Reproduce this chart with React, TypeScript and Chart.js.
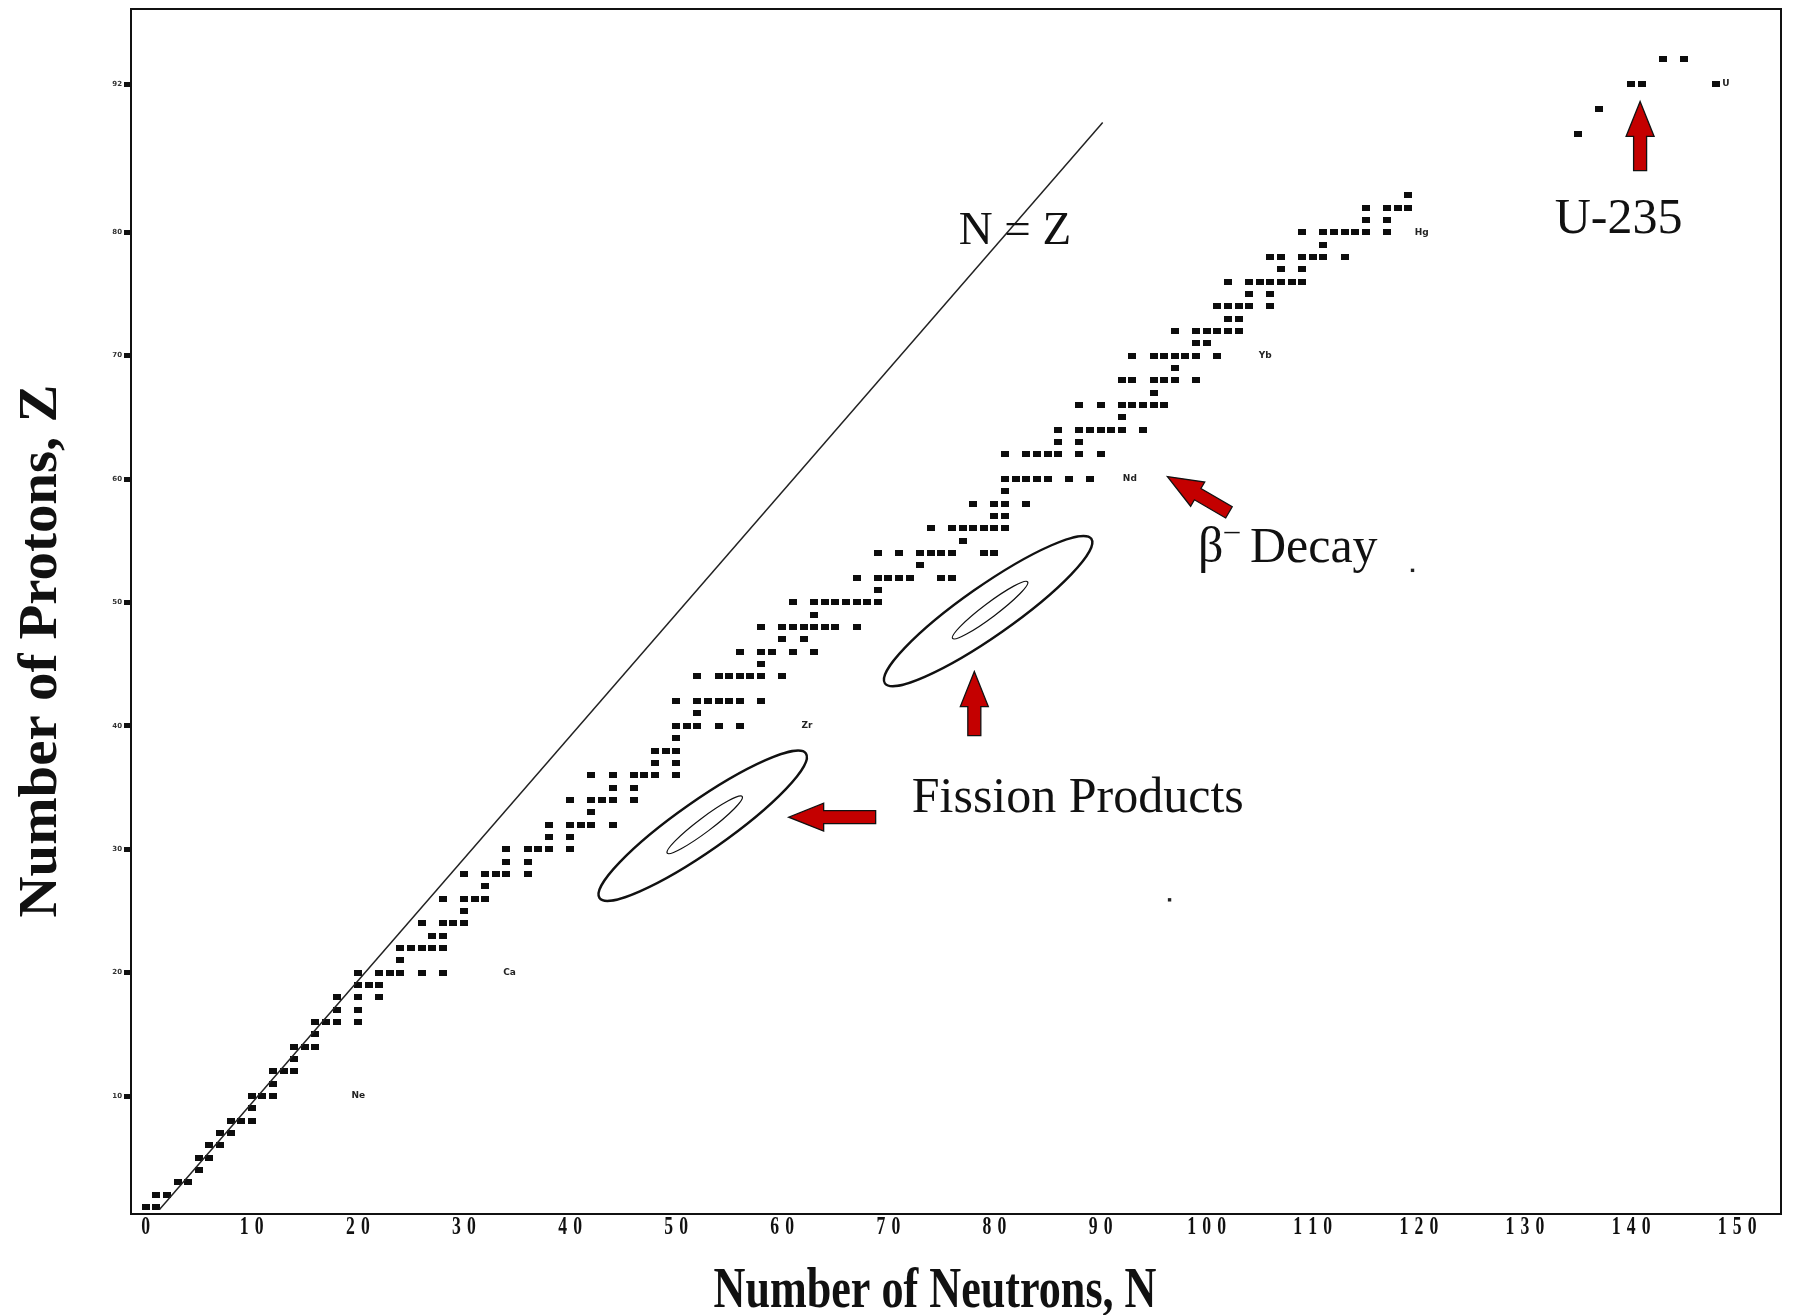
import { useEffect, useRef } from "react";
import { Chart, registerables } from "chart.js";

Chart.register(...registerables);

// Proton number Z of each row of stable nuclides
const protonNumbers = [
  1, 2, 3, 4, 5, 6, 7, 8, 9, 10, 11, 12, 13, 14, 15, 16, 17, 18, 19, 20,
  21, 22, 23, 24, 25, 26, 27, 28, 29, 30, 31, 32, 33, 34, 35, 36, 37, 38, 39, 40,
  41, 42, 44, 45, 46, 47, 48, 49, 50, 51, 52, 53, 54, 55, 56, 57, 58, 59, 60,
  62, 63, 64, 65, 66, 67, 68, 69, 70, 71, 72, 73, 74, 75, 76, 77, 78, 79, 80,
  81, 82, 83, 88, 90, 92, 94,
];

// Neutron numbers N found in each of those rows
const neutronRows = [
  [0, 1], [1, 2], [3, 4], [5], [5, 6], [6, 7], [7, 8], [8, 9, 10], [10], [10, 11, 12],
  [12], [12, 13, 14], [14], [14, 15, 16], [16], [16, 17, 18, 20], [18, 20], [18, 20, 22],
  [20, 21, 22], [20, 22, 23, 24, 26, 28],
  [24], [24, 25, 26, 27, 28], [27, 28], [26, 28, 29, 30], [30], [28, 30, 31, 32], [32],
  [30, 32, 33, 34, 36], [34, 36], [34, 36, 37, 38, 40],
  [38, 40], [38, 40, 41, 42, 44], [42], [40, 42, 43, 44, 46], [44, 46],
  [42, 44, 46, 47, 48, 50], [48, 50], [48, 49, 50], [50], [50, 51, 52, 54, 56],
  [52], [50, 52, 53, 54, 55, 56, 58], [52, 54, 55, 56, 57, 58, 60], [58],
  [56, 58, 59, 61, 63], [60, 62], [58, 60, 61, 62, 63, 64, 65, 67], [63],
  [61, 63, 64, 65, 66, 67, 68, 69], [69], [67, 69, 70, 71, 72, 75, 76], [73],
  [69, 71, 73, 74, 75, 76, 79, 80], [77], [74, 76, 77, 78, 79, 80, 81], [80, 81],
  [78, 80, 81, 83], [81], [81, 82, 83, 84, 85, 87, 89],
  [81, 83, 84, 85, 86, 88, 90], [86, 88], [86, 88, 89, 90, 91, 92, 94], [92],
  [88, 90, 92, 93, 94, 95, 96], [95], [92, 93, 95, 96, 97, 99], [97],
  [93, 95, 96, 97, 98, 99, 101], [99, 100], [97, 99, 100, 101, 102, 103], [102, 103],
  [101, 102, 103, 104, 106], [104, 106], [102, 104, 105, 106, 107, 108, 109], [107, 109],
  [106, 107, 109, 110, 111, 113], [111], [109, 111, 112, 113, 114, 115, 117],
  [115, 117], [115, 117, 118, 119], [119], [135], [137], [140, 141, 148], [143, 145],
];

// Ends of the N = Z guide line
const guideLineN = [1.3, 90.2];
const guideLineZ = [0.8, 88.9];

// Axis ticks
const xTickValues = [0, 10, 20, 30, 40, 50, 60, 70, 80, 90, 100, 110, 120, 130, 140, 150];
const yTickValues = [10, 20, 30, 40, 50, 60, 70, 80, 92];

// Small element tags printed beside some rows
const elementTags = ["Ne", "Ca", "Zr", "Nd", "Yb", "Hg", "U"];
const elementTagN = [19.4, 33.7, 61.8, 92.1, 104.9, 119.6, 148.6];
const elementTagZ = [10, 20, 40, 60, 70, 80, 92];

// Stray specks
const speckN = [96.5, 119.4];
const speckZ = [25.9, 52.6];

// Fission-product ellipses (centres in N, Z)
const ellipseN = [52.5, 79.4];
const ellipseZ = [31.9, 49.3];

// Red arrows: tip and tail in N, Z
const arrowTipN = [140.85, 96.3, 78.1, 60.6];
const arrowTipZ = [90.6, 60.2, 44.4, 32.6];
const arrowTailN = [140.85, 102.1, 78.1, 68.8];
const arrowTailZ = [85.0, 57.3, 39.2, 32.6];

const X_MIN = -1.385;
const X_MAX = 154.13;
const Y_MIN = 0.44;
const Y_MAX = 98.09;

const SERIF = '"Liberation Serif", "Times New Roman", serif';

function drawBlockArrow(ctx: CanvasRenderingContext2D, tx: number, ty: number, sx: number, sy: number) {
  const len = Math.hypot(tx - sx, ty - sy);
  const ang = Math.atan2(ty - sy, tx - sx);
  const headLen = 35;
  const headHalf = 14;
  const shaftHalf = 6.5;
  ctx.save();
  ctx.translate(sx, sy);
  ctx.rotate(ang);
  ctx.beginPath();
  ctx.moveTo(0, -shaftHalf);
  ctx.lineTo(len - headLen, -shaftHalf);
  ctx.lineTo(len - headLen, -headHalf);
  ctx.lineTo(len, 0);
  ctx.lineTo(len - headLen, headHalf);
  ctx.lineTo(len - headLen, shaftHalf);
  ctx.lineTo(0, shaftHalf);
  ctx.closePath();
  ctx.fillStyle = "#c40000";
  ctx.fill();
  ctx.lineWidth = 1.3;
  ctx.strokeStyle = "#111";
  ctx.stroke();
  ctx.restore();
}

const overlayPlugin = {
  id: "chartOverlay",
  afterDraw(chart: any) {
    const { ctx, chartArea: ca } = chart;
    const xs = chart.scales.x;
    const ys = chart.scales.y;
    const px = (n: number) => xs.getPixelForValue(n);
    const py = (z: number) => ys.getPixelForValue(z);
    ctx.save();

    // plot frame
    ctx.strokeStyle = "#111";
    ctx.lineWidth = 2;
    ctx.strokeRect(ca.left, ca.top, ca.right - ca.left, ca.bottom - ca.top);

    // x tick labels: narrow bold digits, spaced apart
    ctx.fillStyle = "#111";
    ctx.font = `bold 26px ${SERIF}`;
    ctx.textAlign = "center";
    ctx.textBaseline = "alphabetic";
    for (const v of xTickValues) {
      const digits = String(v).split("");
      const cx = px(v);
      digits.forEach((d, i) => {
        const dx = cx + (i - (digits.length - 1) / 2) * 15;
        ctx.save();
        ctx.translate(dx, ca.bottom + 20);
        ctx.scale(0.68, 1);
        ctx.fillText(d, 0, 0);
        ctx.restore();
      });
    }

    // axis titles
    ctx.font = `bold 56px ${SERIF}`;
    const xt = "Number of Neutrons, N";
    const xw = ctx.measureText(xt).width;
    ctx.save();
    ctx.translate(935, 1307);
    ctx.scale(443 / xw, 1);
    ctx.textAlign = "center";
    ctx.fillText(xt, 0, 0);
    ctx.restore();

    ctx.font = `bold 54px ${SERIF}`;
    const yt = "Number of Protons, Z";
    const yw = ctx.measureText(yt).width;
    ctx.save();
    ctx.translate(56, 651);
    ctx.rotate(-Math.PI / 2);
    ctx.scale(533 / yw, 1);
    ctx.textAlign = "center";
    ctx.fillText(yt, 0, 0);
    ctx.restore();

    // element tags
    ctx.font = "bold 9px 'DejaVu Sans'";
    ctx.textAlign = "left";
    ctx.textBaseline = "middle";
    ctx.fillStyle = "#222";
    elementTags.forEach((t, i) => {
      ctx.fillText(t, px(elementTagN[i]), py(elementTagZ[i]));
    });

    // ellipses around the fission-product humps
    ctx.strokeStyle = "#111";
    ellipseN.forEach((n, i) => {
      const cx = px(n);
      const cy = py(ellipseZ[i]);
      ctx.lineWidth = 2.4;
      ctx.beginPath();
      ctx.ellipse(cx, cy, 126, 25, (-35 * Math.PI) / 180, 0, Math.PI * 2);
      ctx.stroke();
      ctx.lineWidth = 1.2;
      ctx.beginPath();
      ctx.ellipse(cx + 2, cy - 1, 47, 7, (-37 * Math.PI) / 180, 0, Math.PI * 2);
      ctx.stroke();
    });

    // arrows
    arrowTipN.forEach((n, i) => {
      drawBlockArrow(ctx, px(n), py(arrowTipZ[i]), px(arrowTailN[i]), py(arrowTailZ[i]));
    });

    // annotation text
    ctx.fillStyle = "#111";
    ctx.textBaseline = "alphabetic";
    ctx.font = `47px ${SERIF}`;
    ctx.textAlign = "center";
    ctx.fillText("N = Z", px(81.93), py(79.04));

    ctx.font = `50px ${SERIF}`;
    ctx.textAlign = "left";
    ctx.fillText("U-235", px(132.8), py(79.93));
    ctx.fillText("Fission Products", px(72.2), py(33.0));

    const bx = px(99.18);
    const by = py(53.27);
    ctx.fillText("\u03b2", bx, by);
    const bw = ctx.measureText("\u03b2").width;
    ctx.font = `30px ${SERIF}`;
    ctx.fillText("\u2013", bx + bw + 1, by - 22);
    ctx.font = `50px ${SERIF}`;
    ctx.fillText(" Decay", bx + bw + 14, by);

    ctx.restore();
  },
};

export default function App() {
  const canvasRef = useRef<HTMLCanvasElement | null>(null);

  useEffect(() => {
    const canvas = canvasRef.current;
    if (!canvas) return;

    const mark = document.createElement("canvas");
    mark.width = 8;
    mark.height = 6;
    const mctx = mark.getContext("2d");
    if (mctx) {
      mctx.fillStyle = "#0d0d0d";
      mctx.fillRect(0, 0, 8, 6);
    }

    const nuclides = protonNumbers.flatMap((z, i) => neutronRows[i].map((n) => ({ x: n, y: z })));
    const guide = guideLineN.map((n, i) => ({ x: n, y: guideLineZ[i] }));
    const specks = speckN.map((n, i) => ({ x: n, y: speckZ[i] }));

    const chart = new Chart(canvas, {
      type: "scatter",
      data: {
        datasets: [
          {
            label: "N = Z",
            data: guide,
            showLine: true,
            borderColor: "#222",
            borderWidth: 1.5,
            pointRadius: 0,
          },
          {
            label: "Stable nuclides",
            data: nuclides,
            pointStyle: mark as any,
            pointRadius: 4,
          },
          {
            label: "specks",
            data: specks,
            pointStyle: "rect",
            pointRadius: 2.4,
            backgroundColor: "#222",
            borderWidth: 0,
          },
        ],
      },
      options: {
        animation: false,
        responsive: false,
        devicePixelRatio: 1,
        events: [],
        layout: { padding: { top: 9, right: 17, bottom: 0, left: 0 } },
        plugins: { legend: { display: false }, tooltip: { enabled: false } },
        scales: {
          x: {
            type: "linear",
            min: X_MIN,
            max: X_MAX,
            afterFit: (s: any) => {
              s.height = 101;
            },
            afterBuildTicks: (s: any) => {
              s.ticks = xTickValues.map((v) => ({ value: v }));
            },
            grid: { display: false },
            border: { display: false },
            ticks: { display: false },
          },
          y: {
            type: "linear",
            min: Y_MIN,
            max: Y_MAX,
            afterFit: (s: any) => {
              s.width = 131;
            },
            afterBuildTicks: (s: any) => {
              s.ticks = yTickValues.map((v) => ({ value: v }));
            },
            grid: {
              display: true,
              drawOnChartArea: false,
              drawTicks: true,
              tickLength: 7,
              tickWidth: 5,
              tickColor: "#111",
            },
            border: { display: false },
            ticks: {
              color: "#333",
              padding: 2,
              font: { size: 7, weight: "bold", family: "DejaVu Sans" },
            },
          },
        },
      },
      plugins: [overlayPlugin],
    });

    return () => chart.destroy();
  }, []);

  return (
    <div style={{ position: "absolute", left: 0, top: 0, width: 1798, height: 1315, background: "#fff" }}>
      <canvas ref={canvasRef} width={1798} height={1315} style={{ display: "block" }} />
    </div>
  );
}
